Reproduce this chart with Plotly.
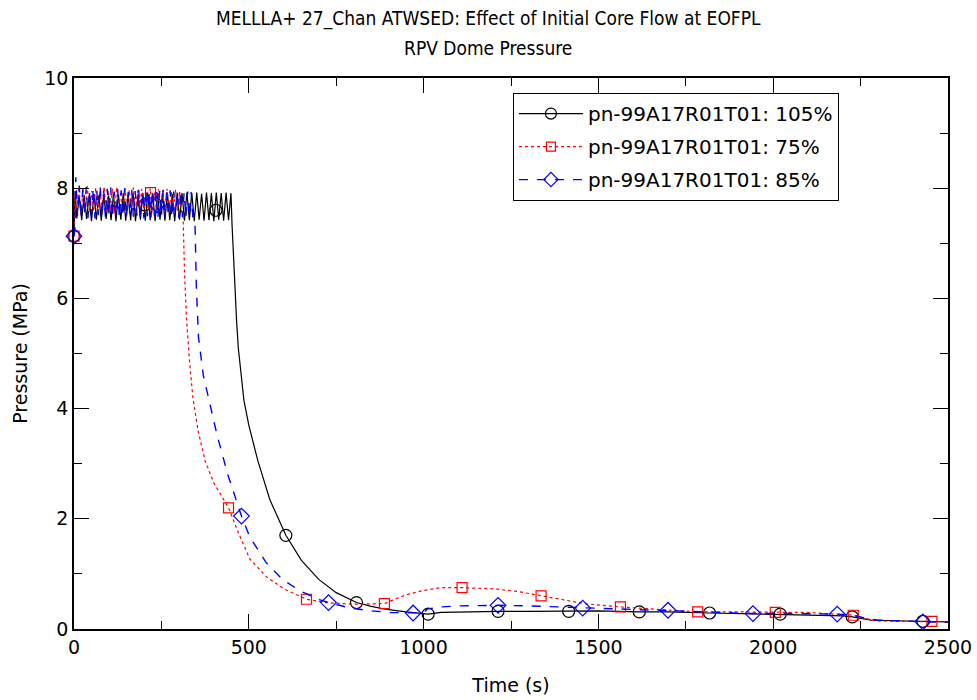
import plotly.graph_objects as go

# ---------------- data ----------------
# 105% initial core flow (black, solid)
black_osc_t = [8, 15, 22, 29, 36, 43, 50, 57, 64, 71, 78, 85, 92, 99, 106, 113, 120, 127, 134, 141,
               148, 155, 162, 169, 176, 183, 190, 197, 204, 211, 218, 225, 232, 239, 246, 253, 260,
               267, 274, 281, 288, 295, 302, 309, 316, 323, 330, 337, 344, 351, 358, 365, 372, 379,
               386, 393, 400, 407, 414, 421, 428, 435, 442, 449]
black_osc_p = [7.45, 7.85, 7.42, 7.88, 7.44, 7.86, 7.40, 7.90,
               7.43, 7.87, 7.41, 7.89, 7.44, 7.86, 7.42, 7.90,
               7.40, 7.88, 7.43, 7.91, 7.41, 7.89, 7.42, 7.92,
               7.40, 7.90, 7.43, 7.91, 7.41, 7.92, 7.42, 7.90,
               7.40, 7.92, 7.43, 7.91, 7.41, 7.92, 7.42, 7.90,
               7.40, 7.92, 7.43, 7.91, 7.41, 7.92, 7.42, 7.91,
               7.40, 7.92, 7.43, 7.90, 7.41, 7.92, 7.42, 7.91,
               7.40, 7.92, 7.43, 7.91, 7.41, 7.92, 7.42, 7.91]
black_tail_t = [452, 455, 460, 465, 470, 478, 486, 500, 526, 560, 606, 650, 700, 750, 808, 850, 900,
                950, 1000, 1013, 1050, 1100, 1213, 1300, 1415, 1500, 1617, 1700, 1818, 1900, 2020,
                2100, 2200, 2226, 2250, 2280, 2350, 2428, 2500]
black_tail_p = [7.35, 6.90, 6.20, 5.60, 5.10, 4.60, 4.15, 3.70, 3.05, 2.35, 1.70, 1.25, 0.90, 0.66,
                0.48, 0.41, 0.35, 0.31, 0.28, 0.27, 0.30, 0.31, 0.32, 0.32, 0.32, 0.33, 0.31, 0.31,
                0.29, 0.28, 0.27, 0.26, 0.24, 0.22, 0.19, 0.16, 0.15, 0.14, 0.13]
black_start_t = [0, 3]
black_start_p = [7.13, 7.95]
black_mark_t = [0, 202, 406, 606, 808, 1013, 1213, 1415, 1617, 1818, 2020, 2226, 2428]
black_mark_p = [7.13, 7.70, 7.60, 1.70, 0.48, 0.27, 0.32, 0.32, 0.31, 0.29, 0.27, 0.22, 0.14]

# 75% initial core flow (red, dotted)
red_osc_t = [8, 14, 20, 26, 32, 38, 44, 50, 56, 62, 68, 74, 80, 86, 92, 98, 104, 110, 116, 122, 128,
             134, 140, 146, 152, 158, 164, 170, 176, 182, 188, 194, 200, 206, 212, 218, 224, 230, 236,
             242, 248, 254, 260, 266, 272, 278, 284, 290, 296, 302, 308]
red_osc_p = [7.60, 8.02, 7.55, 7.98, 7.62, 8.04, 7.56, 7.95,
             7.58, 8.01, 7.54, 7.97, 7.63, 8.03, 7.57, 7.96,
             7.60, 7.99, 7.55, 8.02, 7.61, 7.94, 7.56, 8.00,
             7.59, 7.97, 7.62, 8.01, 7.55, 7.96, 7.60, 7.99,
             7.57, 7.95, 7.61, 8.00, 7.56, 7.93, 7.62, 7.98,
             7.58, 7.96, 7.55, 7.99, 7.60, 7.94, 7.57, 7.97,
             7.59, 7.95, 7.56]
red_tail_t = [312, 316, 322, 330, 340, 355, 375, 400, 442, 470, 503, 550, 600, 665, 720, 800, 888,
              910, 950, 1000, 1050, 1110, 1200, 1270, 1336, 1400, 1460, 1563, 1650, 1784, 1900, 2006,
              2100, 2229, 2260, 2290, 2350, 2454, 2500]
red_tail_p = [7.50, 6.50, 5.60, 4.90, 4.20, 3.60, 3.05, 2.65, 2.20, 1.75, 1.27, 0.95, 0.73, 0.54,
              0.48, 0.45, 0.46, 0.52, 0.62, 0.70, 0.75, 0.75, 0.73, 0.68, 0.60, 0.52, 0.46, 0.40,
              0.36, 0.31, 0.31, 0.30, 0.30, 0.25, 0.20, 0.15, 0.14, 0.14, 0.13]
red_start_t = [0, 3]
red_start_p = [7.13, 7.90]
red_mark_t = [0, 219, 442, 665, 888, 1110, 1336, 1563, 1784, 2006, 2229, 2454]
red_mark_p = [7.13, 7.92, 2.20, 0.54, 0.46, 0.75, 0.60, 0.40, 0.31, 0.30, 0.25, 0.14]

# 85% initial core flow (blue, dashed)
blue_osc_t = [10, 15, 20, 25, 30, 35, 40, 45, 50, 55, 60, 65, 70, 75, 80, 85, 90, 95, 100, 105, 110,
              115, 120, 125, 130, 135, 140, 145, 150, 155, 160, 165, 170, 175, 180, 185, 190, 195,
              200, 205, 210, 215, 220, 225, 230, 235, 240, 245, 250, 255, 260, 265, 270, 275, 280,
              285, 290, 295, 300, 305, 310, 315, 320, 325, 330, 335, 340]
blue_osc_p = [7.50, 8.05, 7.47, 7.98, 7.52, 8.02, 7.46, 7.96,
              7.49, 8.00, 7.45, 7.97, 7.51, 8.03, 7.48, 7.95,
              7.47, 7.99, 7.52, 8.01, 7.46, 7.94, 7.50, 7.98,
              7.45, 7.96, 7.49, 8.00, 7.47, 7.93, 7.51, 7.97,
              7.46, 7.95, 7.50, 7.99, 7.48, 7.92, 7.45, 7.96,
              7.49, 7.94, 7.47, 7.98, 7.50, 7.93, 7.46, 7.95,
              7.48, 7.97, 7.45, 7.92, 7.49, 7.96, 7.47, 7.94,
              7.50, 7.93, 7.46, 7.95, 7.48, 7.92, 7.47, 7.94,
              7.49, 7.93, 7.46]
blue_tail_t = [346, 350, 356, 370, 386, 410, 440, 460, 479, 503, 550, 598, 650, 704, 728, 790, 850,
               904, 970, 1000, 1010, 1047, 1100, 1213, 1300, 1400, 1455, 1550, 1699, 1800, 1942,
               2050, 2183, 2230, 2260, 2300, 2428, 2500]
blue_tail_p = [7.40, 6.20, 5.30, 4.60, 4.16, 3.50, 2.80, 2.40, 2.05, 1.67, 1.20, 0.89, 0.68, 0.53,
               0.48, 0.38, 0.33, 0.30, 0.29, 0.29, 0.36, 0.40, 0.42, 0.43, 0.42, 0.40, 0.38, 0.36,
               0.34, 0.31, 0.28, 0.28, 0.27, 0.25, 0.20, 0.16, 0.13, 0.12]
blue_start_t = [0, 3, 5]
blue_start_p = [7.13, 7.30, 8.20]
blue_mark_t = [0, 237, 479, 728, 970, 1213, 1455, 1699, 1942, 2183, 2428]
blue_mark_p = [7.13, 7.70, 2.05, 0.48, 0.29, 0.43, 0.38, 0.34, 0.28, 0.27, 0.13]

series_names = ["pn-99A17R01T01: 105%", "pn-99A17R01T01: 75%", "pn-99A17R01T01: 85%"]

# ---------------- figure ----------------
FONT = "DejaVu Sans, Verdana, sans-serif"
TITLE_FONT = "DejaVu Sans Condensed, Liberation Sans Narrow, DejaVu Sans, sans-serif"

specs = [
    (black_start_t + black_osc_t + black_tail_t, black_start_p + black_osc_p + black_tail_p,
     black_mark_t, black_mark_p, "black", "solid", "circle-open", 12, 1.2),
    (red_start_t + red_osc_t + red_tail_t, red_start_p + red_osc_p + red_tail_p,
     red_mark_t, red_mark_p, "#ff0000", "dot", "square-open", 10, 1.2),
    (blue_start_t + blue_osc_t + blue_tail_t, blue_start_p + blue_osc_p + blue_tail_p,
     blue_mark_t, blue_mark_p, "#0000ff", "dash", "diamond-open", 12, 1.4),
]

fig = go.Figure()
for i, (name, (lt, lp, mt, mp, col, dash, sym, msz, lw)) in enumerate(zip(series_names, specs)):
    fig.add_trace(go.Scatter(x=lt, y=lp, mode="lines", showlegend=False,
                             line=dict(color=col, width=lw, dash=dash), hoverinfo="skip"))
    fig.add_trace(go.Scatter(x=mt, y=mp, mode="markers", showlegend=False, cliponaxis=False,
                             marker=dict(symbol=sym, size=msz, color=col, line=dict(color=col, width=1.2))))
    fig.add_trace(go.Scatter(x=[None], y=[None], mode="lines+markers", name=name,
                             legendgroup="g%d" % i,
                             line=dict(color=col, width=lw, dash=dash),
                             marker=dict(symbol=sym, size=msz - 1, color=col, line=dict(color=col, width=1.2))))

axis_common = dict(showgrid=False, zeroline=False, showline=True, linecolor="black", linewidth=1.5,
                   mirror="allticks", ticks="inside", ticklen=15, tickwidth=1.2, tickcolor="black",
                   automargin=False,
                   tickfont=dict(family=FONT, size=19, color="black"))

fig.update_xaxes(range=[0, 2500], dtick=500, tick0=0,
                 minor=dict(dtick=250, ticks="inside", ticklen=8, tickwidth=1.2, tickcolor="black"),
                 title=dict(text="Time (s)", font=dict(family=FONT, size=19, color="black"), standoff=22),
                 **axis_common)
fig.update_yaxes(range=[0, 10], dtick=2, tick0=0,
                 minor=dict(dtick=1, ticks="inside", ticklen=8, tickwidth=1.2, tickcolor="black"),
                 title=dict(text="Pressure (MPa)", font=dict(family=FONT, size=19, color="black"), standoff=12),
                 **axis_common)

fig.update_layout(
    width=977, height=700,
    margin=dict(l=74, r=29, t=78, b=71),
    paper_bgcolor="white", plot_bgcolor="white",
    showlegend=True,
    legend=dict(x=0.502, y=0.973, xanchor="left", yanchor="top",
                bgcolor="white", bordercolor="black", borderwidth=1.2,
                font=dict(family=FONT, size=20, color="black"),
                itemwidth=64, tracegroupgap=4),
    annotations=[
        dict(text="MELLLA+ 27_Chan ATWSED: Effect of Initial Core Flow at EOFPL", xref="paper", yref="paper",
             x=(488 - 74) / 874, y=(629 - 18) / 551, xanchor="center", yanchor="middle", showarrow=False,
             font=dict(family=TITLE_FONT, size=19, color="black")),
        dict(text="RPV Dome Pressure", xref="paper", yref="paper",
             x=(488 - 74) / 874, y=(629 - 48) / 551, xanchor="center", yanchor="middle", showarrow=False,
             font=dict(family=TITLE_FONT, size=19, color="black")),
    ],
)

# remove the default 8 px page margin so the 977x700 figure fills the window exactly
fig.write_html("out.html", config={"displayModeBar": False},
               post_script="document.body.style.margin='0px';document.body.style.overflow='hidden';")
